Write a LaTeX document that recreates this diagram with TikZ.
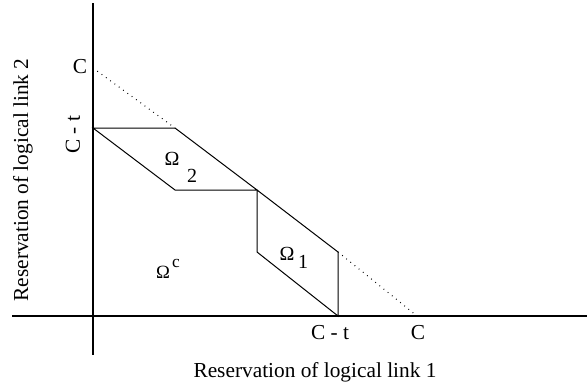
\documentclass[tikz,border=0pt]{standalone}
\usepackage{fontspec}
\setmainfont{Liberation Serif}
\begin{document}
\begin{tikzpicture}[x=0.75pt,y=-0.75pt,
  lbl/.style={inner sep=0pt,font=\fontsize{16}{18}\selectfont},
  om/.style={inner sep=0pt,font=\fontsize{15}{17}\selectfont},
  axis/.style={line width=0.8pt},
  edge/.style={line width=0.75pt},
  dots/.style={line width=0.8pt,dash pattern=on 0.6pt off 3.4pt}]
\useasboundingbox (0,0) rectangle (587,389);
\coordinate (ytop) at (93,3);
\coordinate (ybot) at (93,355);
\coordinate (xl) at (12,316);
\coordinate (xr) at (587,316);
\coordinate (Cy) at (93,68);
\coordinate (Cx) at (417,316);
\coordinate (a) at (93,128);
\coordinate (b) at (175,128);
\coordinate (c) at (257,190);
\coordinate (d) at (175,190);
\coordinate (e) at (338,252);
\coordinate (f) at (338,316);
\coordinate (g) at (257,252);
\draw[axis] (ytop) -- (ybot);
\draw[axis] (xl) -- (xr);
\draw[dots] (Cy) -- (b);
\draw[dots] (e) -- (Cx);
\draw[edge] (a) -- (b) -- (c) -- (d) -- cycle;
\draw[edge] (c) -- (e) -- (f) -- (g) -- cycle;
\node[lbl] (lC) at (80,67) {C};
\node[lbl,rotate=90] (lCt) at (73,135) {C - t};
\node[lbl] (lxCt) at (330,333) {C - t};
\node[lbl] (lxC) at (418,333) {C};
\node[lbl] (xlab) at (315,372) {Reservation of logical link 1};
\node[lbl,rotate=90] (ylab) at (23,180) {Reservation of logical link 2};
\node[om] (om2) at (172,159) {Ω};
\node[om] (om2i) at (192,176) {2};
\node[om] (om1) at (287,254) {Ω};
\node[om] (om1i) at (303,262) {1};
\node[om,font=\fontsize{14}{16}\selectfont] (omc) at (163,272) {Ω};
\node[om,font=\fontsize{13}{15}\selectfont] (omci) at (176,264) {c};
\end{tikzpicture}
\end{document}
